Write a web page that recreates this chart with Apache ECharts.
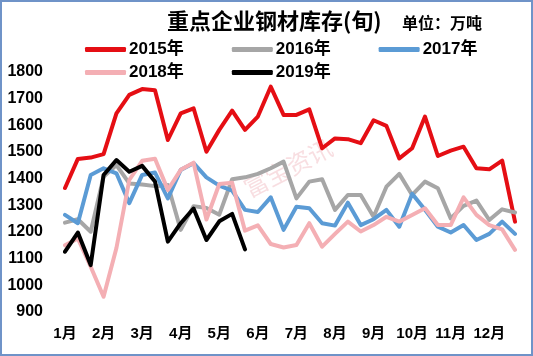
<!DOCTYPE html>
<html>
<head>
<meta charset="utf-8">
<script src="https://cdn.jsdelivr.net/npm/echarts@6/dist/echarts.min.js"></script>
<style>
html,body{margin:0;padding:0;background:#fff;}
#c{width:533px;height:356px;}
</style>
</head>
<body>
<div id="c"></div>
<script>
// ---- data ----
var months = ['1月','2月','3月','4月','5月','6月','7月','8月','9月','10月','11月','12月'];
var periods = ['上旬','中旬','下旬'];
var yTicks = [900, 1800, 100]; // min, max, step

var s2015 = [1365,1474,1479,1492,1645,1714,1736,1732,1545,1645,1664,1501,
             1583,1655,1583,1633,1745,1639,1639,1660,1514,1551,1548,1533,
             1619,1598,1476,1514,1633,1485,1505,1520,1439,1435,1468,1239];
var s2016 = [1235,1248,1201,1407,1451,1382,1378,1372,1376,1208,1297,1290,
             1265,1398,1405,1418,1439,1464,1326,1389,1398,1283,1339,1339,
             1257,1370,1418,1339,1389,1364,1251,1298,1318,1245,1285,1273];
var s2017 = [1264,1233,1414,1439,1420,1308,1414,1423,1326,1433,1458,1405,
             1374,1355,1283,1275,1330,1208,1295,1289,1233,1224,1310,1226,
             1248,1283,1220,1343,1283,1220,1198,1226,1170,1193,1239,1193];
var s2018 = [1150,1176,1070,957,1140,1395,1467,1475,1358,1433,1460,1247,
             1380,1385,1205,1225,1155,1142,1151,1233,1145,1193,1239,1202,
             1226,1257,1239,1264,1289,1226,1226,1330,1264,1226,1210,1133];
var s2019 = [1126,1198,1076,1414,1470,1426,1448,1389,1164,1233,1288,1170,
             1240,1268,1135];

var seriesNames = ['2015年','2016年','2017年','2018年','2019年'];
var seriesColors = ['#e50e14','#a6a6a6','#5b9bd5','#f4afb4','#000000'];
var seriesData = [s2015,s2016,s2017,s2018,s2019];

var categories = [];
months.forEach(function(m){ periods.forEach(function(p){ categories.push(m + p); }); });

var chart = echarts.init(document.getElementById('c'), null, {renderer:'canvas'});
var fontNum = '"Liberation Sans", Arial, "Noto Sans CJK SC", sans-serif';
var fontCJK = '"Noto Sans CJK SC", sans-serif';

var series = seriesNames.map(function(n, k){
  return {
    name: n, type: 'line', data: seriesData[k], symbol: 'none', smooth: false,
    lineStyle: {color: seriesColors[k], width: 4, cap: 'round', join: 'round'},
    itemStyle: {color: seriesColors[k]},
    z: 2 + k
  };
});

function legend(items, top){
  return {
    data: items, left: 80, top: top, orient: 'horizontal',
    icon: 'roundRect', itemWidth: 41, itemHeight: 5, itemGap: 48,
    textStyle: {fontFamily: fontNum, fontWeight: 'bold', fontSize: 17, color: '#000', width: 53, padding:[0,0,0,-2]},
    selectedMode: false
  };
}

chart.setOption({
  animation: false,
  backgroundColor: '#fff',
  title: [
    {text: '重点企业钢材库存(旬)', left: 162, top: 5,
     textStyle: {fontFamily: fontCJK, fontWeight: 'bold', fontSize: 22, color: '#000'}},
    {text: '单位：万吨', left: 397, top: 10,
     textStyle: {fontFamily: fontCJK, fontWeight: 'bold', fontSize: 16, color: '#000'}}
  ],
  legend: [legend(seriesNames.slice(0,3), 36), legend(seriesNames.slice(3), 59)],
  grid: {left: 65, right: 18, top: 72, bottom: 44},
  xAxis: {
    type: 'category', data: categories, boundaryGap: false,
    axisLine: {show: false}, axisTick: {show: false},
    axisLabel: {interval: 2, margin: 14, fontFamily: fontNum, fontWeight: 'bold', fontSize: 15, color: '#000',
      formatter: function(v){ return v.replace(/[上中下]旬/, ''); }},
    splitLine: {show: false}
  },
  yAxis: {
    type: 'value', min: yTicks[0], max: yTicks[1], interval: yTicks[2],
    axisLine: {show: false}, axisTick: {show: false}, splitLine: {show: false},
    axisLabel: {margin: 22, fontFamily: fontNum, fontWeight: 'bold', fontSize: 16, color: '#000',
      formatter: function(v){ return String(v); }}
  },
  graphic: [
    {type: 'rect', shape: {x: 1, y: 1, width: 531, height: 354}, z: 100,
     style: {fill: 'none', stroke: '#6f93c8', lineWidth: 2}, silent: true},
    {type: 'text', x: 288, y: 168, rotation: 0.48, z: 0,
     style: {text: '富宝资讯', fill: 'rgba(235,160,170,0.35)', font: '24px "Noto Sans CJK SC"', align: 'center', verticalAlign: 'middle'}}
  ],
  series: series
});
</script>
</body>
</html>
